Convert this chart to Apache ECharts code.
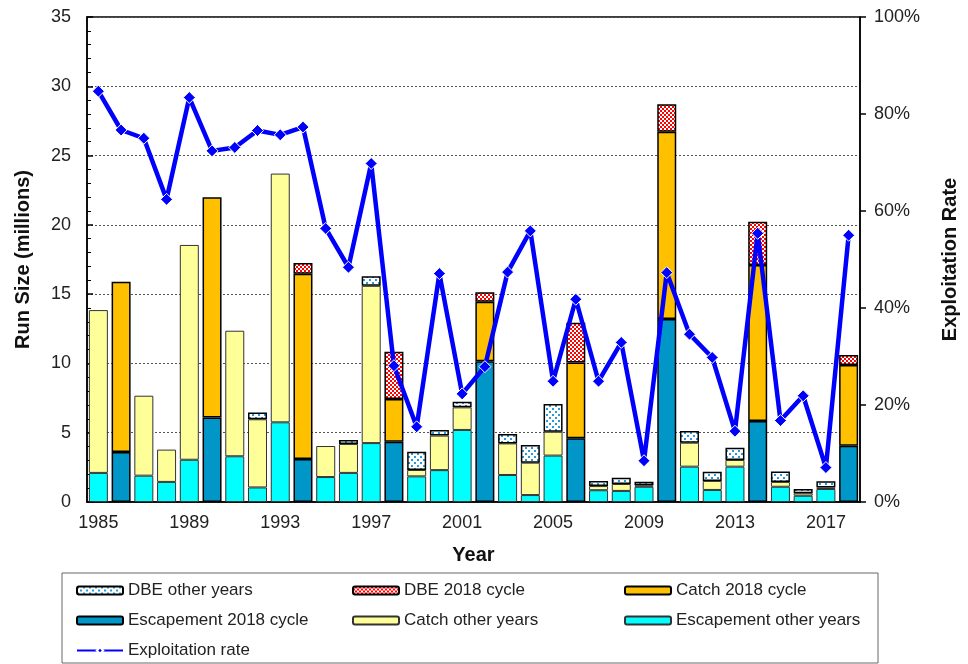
<!DOCTYPE html>
<html>
<head>
<meta charset="utf-8">
<script src="https://cdn.jsdelivr.net/npm/echarts@6/dist/echarts.min.js"></script>
<style>
  html, body { margin: 0; padding: 0; background: #fff; }
  #chart { width: 968px; height: 664px; }
</style>
</head>
<body>
<div id="chart"></div>
<script>
// data
const years = [1985, 1986, 1987, 1988, 1989, 1990, 1991, 1992, 1993, 1994, 1995, 1996,
  1997, 1998, 1999, 2000, 2001, 2002, 2003, 2004, 2005, 2006, 2007, 2008, 2009, 2010,
  2011, 2012, 2013, 2014, 2015, 2016, 2017, 2018];

const escapement = [2.1, 3.6, 1.9, 1.45, 3.05, 6.1, 3.3, 1.05, 5.75, 3.1, 1.8, 2.1,
  4.25, 4.35, 1.85, 2.3, 5.2, 10.15, 1.95, 0.5, 3.35, 4.6, 0.85, 0.8, 1.1, 13.2,
  2.55, 0.87, 2.55, 5.85, 1.1, 0.45, 0.94, 4.06];

const catchVals = [11.75, 12.3, 5.77, 2.33, 15.5, 15.9, 9.06, 4.92, 17.95, 13.38, 2.24, 2.09,
  11.35, 3.08, 0.46, 2.49, 1.63, 4.31, 2.28, 2.34, 1.72, 5.46, 0.3, 0.5, 0.1, 13.52,
  1.73, 0.65, 0.48, 11.25, 0.35, 0.18, 0.1, 5.83];

const dbe = [0, 0, 0, 0, 0, 0, 0, 0.48, 0, 0.77, 0, 0.28,
  0.7, 3.42, 1.32, 0.41, 0.41, 0.67, 0.67, 1.27, 2.0, 2.88, 0.37, 0.45, 0.27, 1.98,
  0.84, 0.67, 0.89, 3.13, 0.75, 0.31, 0.45, 0.71];

const exploitRate = [84.7, 76.7, 75.0, 62.4, 83.4, 72.4, 73.1, 76.6, 75.7, 77.3, 56.4, 48.4,
  69.8, 28.1, 15.5, 47.1, 22.3, 27.9, 47.4, 55.9, 24.9, 41.8, 24.9, 32.9, 8.5, 47.3,
  34.6, 29.8, 14.6, 55.4, 16.8, 21.9, 7.1, 55.0];

const yLeftTicks = [0, 35, 5];
const yRightTicks = [0, 100, 20];

// 2018 cycle = every 4th year back from 2018
const isCycle = years.map(y => (2018 - y) % 4 === 0);
const pick = (arr, cycle) => arr.map((v, i) => (isCycle[i] === cycle && v > 0 ? v : '-'));

// fill patterns for the DBE bars
function makePattern(size, bg, fg, cells) {
  const c = document.createElement('canvas');
  c.width = size; c.height = size;
  const ctx = c.getContext('2d');
  ctx.fillStyle = bg;
  ctx.fillRect(0, 0, size, size);
  ctx.fillStyle = fg;
  cells.forEach(p => ctx.fillRect(p[0], p[1], p[2], p[2]));
  return { image: c, repeat: 'repeat' };
}
const dotsBlue = makePattern(6, '#ffffff', '#2b9ad6', [[0, 0, 2], [3, 3, 2]]);
const checkRed = makePattern(4, '#ff0000', '#ffffff', [[0, 0, 2], [2, 2, 2]]);

const FONT = 'Liberation Sans, Arial, sans-serif';
const BW = 19;

function barSeries(name, data, color, cycle) {
  return {
    name: name,
    type: 'bar',
    stack: 'run',
    barWidth: BW,
    data: data,
    itemStyle: {
      color: color,
      borderColor: cycle ? '#000' : '#333',
      borderWidth: cycle ? 1.5 : 1
    },
    emphasis: { disabled: true }
  };
}

const chart = echarts.init(document.getElementById('chart'));

const legendText = { fontFamily: FONT, fontSize: 17, color: '#222' };
const legendBase = {
  orient: 'vertical',
  top: 582,
  itemGap: 13,
  itemWidth: 46,
  itemHeight: 8,
  padding: 0,
  selectedMode: false,
  textStyle: legendText
};

const option = {
  animation: false,
  backgroundColor: '#fff',
  grid: {
    left: 87, right: 99, top: 17, bottom: 162,
    show: true, borderColor: '#000', borderWidth: 1.5
  },
  graphic: [{
    type: 'rect',
    shape: { x: 62, y: 573, width: 816, height: 90 },
    style: { fill: 'none', stroke: '#666', lineWidth: 1 },
    z: 0
  }],
  legend: [
    Object.assign({}, legendBase, { left: 76,
      data: ['DBE other years', 'Escapement 2018 cycle', 'Exploitation rate'] }),
    Object.assign({}, legendBase, { left: 352,
      data: ['DBE 2018 cycle', 'Catch other years'] }),
    Object.assign({}, legendBase, { left: 624,
      data: ['Catch 2018 cycle', 'Escapement other years'] })
  ],
  xAxis: {
    type: 'category',
    data: years,
    name: 'Year',
    nameLocation: 'middle',
    nameGap: 43,
    nameTextStyle: { fontFamily: FONT, fontSize: 20, fontWeight: 'bold', color: '#111' },
    axisLine: { lineStyle: { color: '#000', width: 1.5 } },
    axisTick: { interval: 1, length: 5, lineStyle: { color: '#000', width: 1.5 } },
    axisLabel: { interval: 3, margin: 12, fontFamily: FONT, fontSize: 18, color: '#222' },
    splitLine: { show: false }
  },
  yAxis: [{
    type: 'value',
    min: yLeftTicks[0], max: yLeftTicks[1], interval: yLeftTicks[2],
    name: 'Run Size (millions)',
    nameLocation: 'middle',
    nameGap: 54,
    nameTextStyle: { fontFamily: FONT, fontSize: 20, fontWeight: 'bold', color: '#111' },
    axisLine: { show: true, lineStyle: { color: '#000', width: 1.5 } },
    axisTick: { show: true, inside: true, length: 6, lineStyle: { color: '#000', width: 1.5 } },
    minorTick: { show: true, splitNumber: 5, length: 4, lineStyle: { color: '#000', width: 1 } },
    axisLabel: { margin: 16, fontFamily: FONT, fontSize: 18, color: '#222' },
    splitLine: { show: true, lineStyle: { color: '#555', type: [2, 2], width: 1 } }
  }, {
    type: 'value',
    position: 'right',
    min: yRightTicks[0], max: yRightTicks[1], interval: yRightTicks[2],
    name: 'Exploitation Rate',
    nameLocation: 'middle',
    nameGap: 80,
    nameTextStyle: { fontFamily: FONT, fontSize: 20, fontWeight: 'bold', color: '#111' },
    axisLine: { show: true, lineStyle: { color: '#000', width: 1.5 } },
    axisTick: { show: true, length: 6, lineStyle: { color: '#000', width: 1.5 } },
    axisLabel: { margin: 14, formatter: '{value}%', fontFamily: FONT, fontSize: 18, color: '#222' },
    splitLine: { show: false }
  }],
  series: [
    barSeries('Escapement other years', pick(escapement, false), '#00ffff', false),
    barSeries('Escapement 2018 cycle', pick(escapement, true), '#0096c8', true),
    barSeries('Catch other years', pick(catchVals, false), '#ffff99', false),
    barSeries('Catch 2018 cycle', pick(catchVals, true), '#ffc000', true),
    barSeries('DBE other years', pick(dbe, false), dotsBlue, true),
    barSeries('DBE 2018 cycle', pick(dbe, true), checkRed, true),
    {
      name: 'Exploitation rate',
      type: 'line',
      yAxisIndex: 1,
      data: exploitRate,
      symbol: 'diamond',
      symbolSize: 12,
      z: 5,
      lineStyle: { color: '#0000ff', width: 4.5 },
      itemStyle: { color: '#0000ff', borderColor: '#fff', borderWidth: 1 },
      emphasis: { disabled: true }
    }
  ]
};

chart.setOption(option);
window.addEventListener('resize', () => chart.resize());
</script>
</body>
</html>
